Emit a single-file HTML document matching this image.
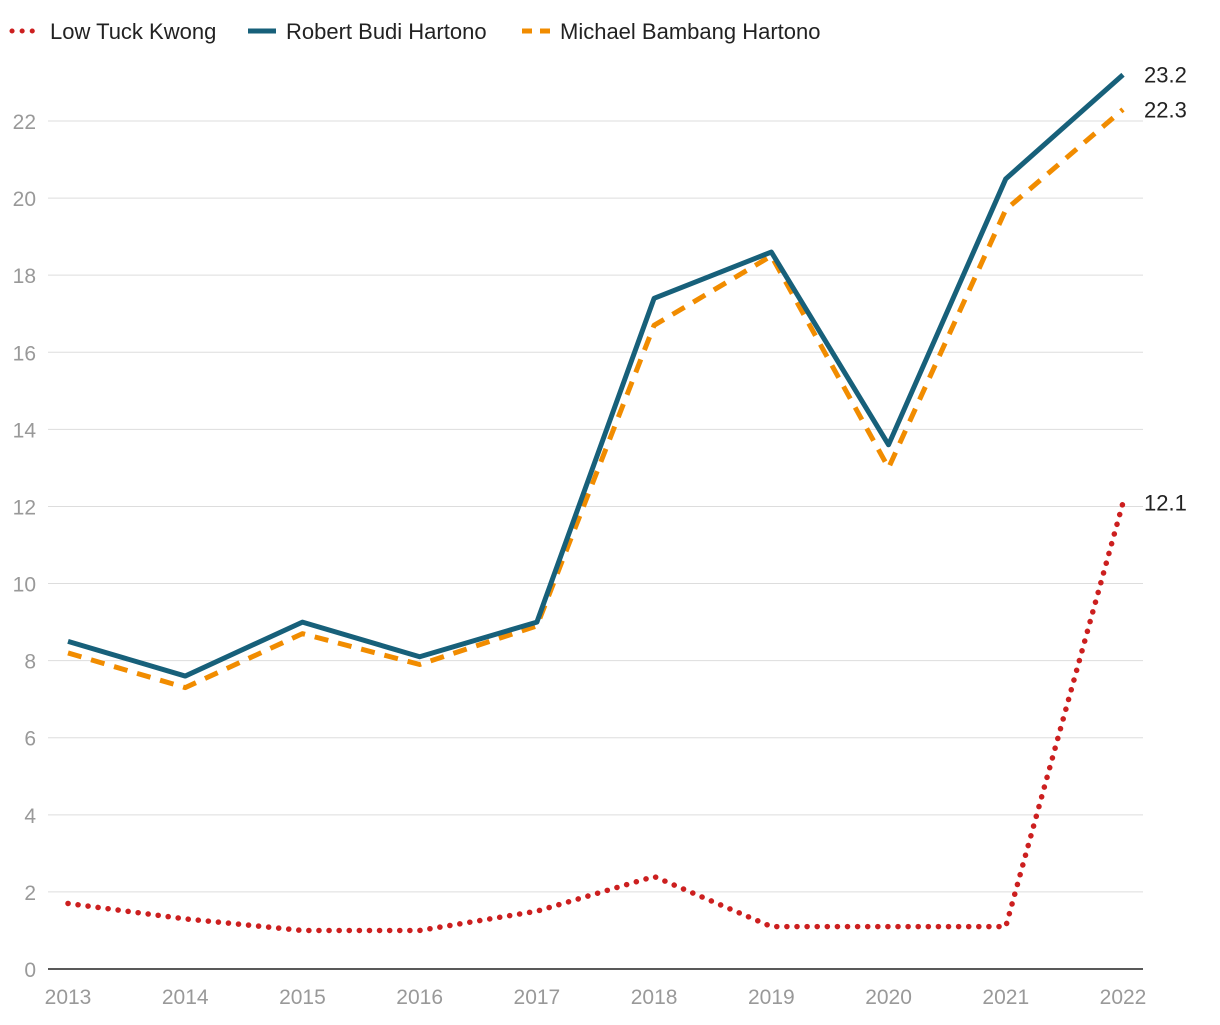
<!DOCTYPE html>
<html><head><meta charset="utf-8">
<style>
body{margin:0;background:#fff;font-family:"Liberation Sans",Roboto,sans-serif;}
svg text{font-family:"Liberation Sans",sans-serif;}
</style></head>
<body>
<svg id="chart" width="1220" height="1020" xmlns="http://www.w3.org/2000/svg">
  <g id="legend">
    <g>
      <line x1="12" y1="31" x2="40" y2="31" stroke="#cc1f1f" stroke-width="5" stroke-linecap="round" stroke-dasharray="0.1 10"/>
      <text x="50" y="39" font-size="22" fill="#222">Low Tuck Kwong</text>
    </g>
    <g>
      <line x1="248" y1="31" x2="276" y2="31" stroke="#17607a" stroke-width="5"/>
      <text x="286" y="39" font-size="22" fill="#222">Robert Budi Hartono</text>
    </g>
    <g>
      <line x1="522" y1="31" x2="552" y2="31" stroke="#f18c00" stroke-width="5" stroke-dasharray="10 8"/>
      <text x="560" y="39" font-size="22" fill="#222">Michael Bambang Hartono</text>
    </g>
  </g>
  <g id="grid"></g>
  <g id="yticks"></g>
  <g id="xticks"></g>
  <g id="series"></g>
</svg>
<script>
const years = [2013,2014,2015,2016,2017,2018,2019,2020,2021,2022];
const lowTuckKwong = [1.7,1.3,1.0,1.0,1.5,2.4,1.1,1.1,1.1,12.1];
const robertBudiHartono = [8.5,7.6,9.0,8.1,9.0,17.4,18.6,13.6,20.5,23.2];
const michaelBambangHartono = [8.2,7.3,8.7,7.9,8.9,16.7,18.5,13.0,19.7,22.3];
const yTicks = [0,2,4,6,8,10,12,14,16,18,20,22];

const NS="http://www.w3.org/2000/svg";
const x = i => 68 + i*(1123-68)/(years.length-1);
const y = v => 969 - v*(969-121)/22;
function mk(tag, attrs, parent){const e=document.createElementNS(NS,tag);for(const k in attrs)e.setAttribute(k,attrs[k]);parent.appendChild(e);return e;}

const grid=document.getElementById('grid'), yt=document.getElementById('yticks'), xt=document.getElementById('xticks'), ser=document.getElementById('series');
yTicks.forEach(v=>{
  const l=mk('line',{x1:48,x2:1143,y1:y(v),y2:y(v),stroke:v===0?'#222':'#dddddd','stroke-width':v===0?1.5:1},grid);
  
  
  const t=mk('text',{x:36,y:y(v)+8,'text-anchor':'end','font-size':21,fill:'#999'},yt);
  
  
  t.textContent=v;
});
years.forEach((yr,i)=>{
  const t=mk('text',{x:x(i),y:1004,'text-anchor':'middle','font-size':21,fill:'#999'},xt);
  
  
  t.textContent=yr;
});
function line(vals, attrs, name){
  const d=vals.map((v,i)=>(i?'L':'M')+x(i)+' '+y(v)).join(' ');
  const p=mk('path',Object.assign({d:d,fill:'none','stroke-linejoin':'round'},attrs),ser);
  
  
  const last=vals[vals.length-1];
  const t=mk('text',{x:1144,y:y(last)+8,'font-size':22,fill:'#222'},ser);
  
  
  t.textContent=last.toFixed(1);
}
line(michaelBambangHartono,{stroke:'#f18c00','stroke-width':5,'stroke-dasharray':'14 10'},'michael-bambang-hartono-line');
line(robertBudiHartono,{stroke:'#17607a','stroke-width':5},'robert-budi-hartono-line');
line(lowTuckKwong,{stroke:'#cc1f1f','stroke-width':5.5,'stroke-linecap':'round','stroke-dasharray':'0.1 10'},'low-tuck-kwong-line');
</script>
</body></html>
